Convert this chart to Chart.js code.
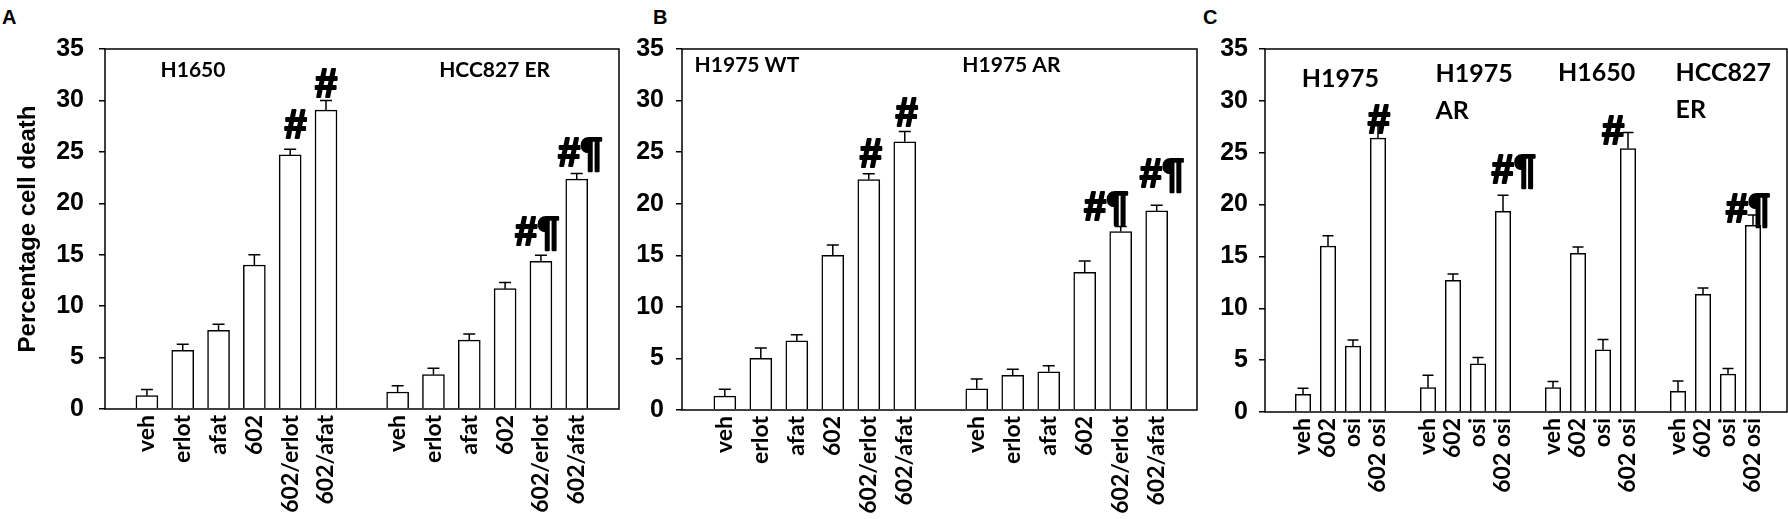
<!DOCTYPE html>
<html>
<head>
<meta charset="utf-8">
<script src="https://cdn.jsdelivr.net/npm/chart.js@4.4.0/dist/chart.umd.min.js"></script>
<style>
  html, body { margin: 0; padding: 0; background: #fff; }
  body { width: 1788px; height: 519px; position: relative; overflow: hidden; }
  canvas { position: absolute; top: 0; }
  .tag { position: absolute; font: bold 20px 'Liberation Sans', Arial, sans-serif; line-height: 20px; color: #000; }
</style>
</head>
<body>
<div class="tag" style="left:2px;top:7px">A</div>
<div class="tag" style="left:653px;top:7px">B</div>
<div class="tag" style="left:1203px;top:7px">C</div>
<canvas id="chartA" width="625" height="519" style="left:0px"></canvas>
<canvas id="chartB" width="580" height="519" style="left:625px"></canvas>
<canvas id="chartC" width="583" height="519" style="left:1205px"></canvas>
<script>
// treatments on the x axis
const treatAB = ['veh', 'erlot', 'afat', '602', '602/erlot', '602/afat'];
const treatC = ['veh', '602', 'osi', '602 osi'];
const yTicks = [0, 5, 10, 15, 20, 25, 30, 35];

// panel A
const h1650 = [1.3, 5.7, 7.65, 14.0, 24.7, 29.05];
const h1650Err = [0.6, 0.6, 0.6, 1.0, 0.55, 0.95];
const hcc827er = [1.65, 3.35, 6.7, 11.7, 14.35, 22.35];
const hcc827erErr = [0.6, 0.6, 0.6, 0.6, 0.6, 0.55];

// panel B
const h1975wt = [1.35, 5.0, 6.7, 15.0, 22.35, 26.0];
const h1975wtErr = [0.65, 1.0, 0.6, 1.0, 0.55, 1.0];
const h1975ar = [2.05, 3.35, 3.7, 13.35, 17.3, 19.3];
const h1975arErr = [0.95, 0.6, 0.6, 1.1, 0.5, 0.55];

// panel C
const osiH1975 = [1.7, 16.0, 6.35, 26.4];
const osiH1975Err = [0.6, 1.0, 0.6, 1.2];
const osiH1975ar = [2.35, 12.7, 4.65, 19.35];
const osiH1975arErr = [1.2, 0.6, 0.6, 1.55];
const osiH1650 = [2.35, 15.3, 6.0, 25.4];
const osiH1650Err = [0.6, 0.6, 1.0, 1.55];
const osiHcc827er = [2.0, 11.35, 3.65, 18.0];
const osiHcc827erErr = [1.0, 0.6, 0.55, 1.0];

// significance marks and cell line names (x in bar slots, y in % units)
const marksA = [
  { x: 4.15, y: 26.3, text: '#' }, { x: 5.0, y: 30.3, text: '#' },
  { x: 10.9, y: 15.9, text: '#¶' }, { x: 12.1, y: 23.6, text: '#¶' }
];
const marksB = [
  { x: 4.06, y: 23.6, text: '#' }, { x: 5.05, y: 27.5, text: '#' },
  { x: 10.6, y: 18.4, text: '#¶' }, { x: 12.15, y: 21.6, text: '#¶' }
];
const marksC = [
  { x: 3.03, y: 26.9, text: '#' }, { x: 8.43, y: 22.1, text: '#¶' },
  { x: 12.4, y: 25.8, text: '#' }, { x: 17.8, y: 18.3, text: '#¶' }
];
const namesA = [{ x: 0.38, y: 32.3, lines: ['H1650'] }, { x: 8.16, y: 32.3, lines: ['HCC827 ER'] }];
const namesB = [{ x: -0.84, y: 32.8, lines: ['H1975 WT'] }, { x: 6.6, y: 32.8, lines: ['H1975 AR'] }];
const namesC = [
  { x: -0.05, y: 31.3, lines: ['H1975'] }, { x: 5.3, y: 31.8, lines: ['H1975', 'AR'] },
  { x: 10.2, y: 31.9, lines: ['H1650'] }, { x: 14.9, y: 31.9, lines: ['HCC827', 'ER'] }
];

const labelFont = "'Lato', 'Noto Sans', sans-serif";
const tickFont = "'Liberation Sans', Arial, sans-serif";

const errorBars = {
  id: 'errorBars',
  afterDatasetsDraw(chart, args, opts) {
    const ctx = chart.ctx;
    const y = chart.scales.y;
    const meta = chart.getDatasetMeta(0);
    ctx.save();
    ctx.strokeStyle = '#000';
    ctx.lineWidth = 1.5;
    meta.data.forEach((bar, i) => {
      const v = chart.data.datasets[0].data[i].y;
      const top = y.getPixelForValue(v + opts.errors[i]);
      ctx.beginPath();
      ctx.moveTo(bar.x, bar.y);
      ctx.lineTo(bar.x, top);
      ctx.moveTo(bar.x - opts.cap / 2, top);
      ctx.lineTo(bar.x + opts.cap / 2, top);
      ctx.stroke();
    });
    ctx.restore();
  }
};

const frame = {
  id: 'frame',
  afterDraw(chart) {
    const a = chart.chartArea;
    const ctx = chart.ctx;
    ctx.save();
    ctx.strokeStyle = '#000';
    ctx.lineWidth = 1.5;
    ctx.strokeRect(a.left, a.top, a.right - a.left, a.bottom - a.top);
    ctx.restore();
  }
};

const marks = {
  id: 'marks',
  afterDraw(chart, args, opts) {
    const ctx = chart.ctx;
    const xs = chart.scales.x, ys = chart.scales.y;
    ctx.save();
    ctx.fillStyle = '#000';
    ctx.strokeStyle = '#000';
    ctx.textBaseline = 'alphabetic';
    ctx.font = 'bold ' + opts.nameSize + 'px ' + labelFont;
    ctx.textAlign = 'left';
    opts.names.forEach(n => {
      n.lines.forEach((line, k) => {
        ctx.fillText(line, xs.getPixelForValue(n.x), ys.getPixelForValue(n.y) + k * opts.lineGap);
      });
    });
    // heavy # and ¶ signs
    ctx.font = 'bold 40px ' + tickFont;
    ctx.textAlign = 'center';
    ctx.lineWidth = 2;
    ctx.lineJoin = 'round';
    opts.signs.forEach(m => {
      const px = xs.getPixelForValue(m.x), py = ys.getPixelForValue(m.y);
      ctx.fillText(m.text, px, py);
      ctx.strokeText(m.text, px, py);
    });
    ctx.restore();
  }
};

function makePanel(id, p) {
  const points = [], errs = [], labels = [], slots = [];
  p.groups.forEach((g, gi) => {
    g.vals.forEach((v, i) => {
      const x = p.starts[gi] + i;
      points.push({ x: x, y: v });
      errs.push(g.errs[i]);
      labels.push(p.treat[i]);
      slots.push(x);
    });
  });

  new Chart(document.getElementById(id), {
    type: 'bar',
    data: {
      datasets: [{
        data: points,
        backgroundColor: '#fff',
        borderColor: '#000',
        borderWidth: 1.5,
        barThickness: p.barWidth
      }]
    },
    options: {
      responsive: false,
      animation: false,
      layout: { padding: { left: 0, top: 49, right: p.padRight, bottom: 0 } },
      scales: {
        x: {
          type: 'linear',
          min: p.xMin,
          max: p.xMax,
          offset: false,
          grid: { display: false, drawTicks: false, offset: false },
          border: { display: false },
          afterBuildTicks: scale => { scale.ticks = slots.map(v => ({ value: v })); },
          afterFit: scale => { scale.height = 519 - p.bottom; },
          ticks: {
            autoSkip: false,
            minRotation: 90,
            maxRotation: 90,
            padding: 6,
            color: '#000',
            font: { family: labelFont, size: 23, weight: 'bold' },
            callback: (v, i) => labels[i]
          }
        },
        y: {
          min: 0,
          max: 35,
          afterBuildTicks: scale => { scale.ticks = yTicks.map(v => ({ value: v })); },
          afterFit: scale => { scale.width = p.yWidth; },
          grid: { display: true, drawOnChartArea: false, drawTicks: true, tickLength: 6, color: '#000', lineWidth: 1.5 },
          border: { display: false },
          ticks: {
            padding: p.tickPad,
            color: '#000',
            font: { family: tickFont, size: 25, weight: 'bold' }
          },
          title: {
            display: !!p.yTitle,
            text: p.yTitle || '',
            color: '#000',
            padding: { top: 14, bottom: 0 },
            font: { family: tickFont, size: 24, weight: 'bold' }
          }
        }
      },
      plugins: {
        legend: { display: false },
        tooltip: { enabled: false },
        errorBars: { errors: errs, cap: p.cap },
        marks: { names: p.names, signs: p.signs, nameSize: p.nameSize, lineGap: 37 }
      }
    },
    plugins: [errorBars, frame, marks]
  });
}

makePanel('chartA', {
  groups: [{ vals: h1650, errs: h1650Err }, { vals: hcc827er, errs: hcc827erErr }],
  starts: [0, 7], treat: treatAB, xMin: -1.17, xMax: 13.18,
  barWidth: 22, cap: 12, yWidth: 105, tickPad: 15, padRight: 6, bottom: 409,
  yTitle: 'Percentage cell death', names: namesA, signs: marksA, nameSize: 21
});

makePanel('chartB', {
  groups: [{ vals: h1975wt, errs: h1975wtErr }, { vals: h1975ar, errs: h1975arErr }],
  starts: [0, 7], treat: treatAB, xMin: -1.19, xMax: 13.12,
  barWidth: 22, cap: 12, yWidth: 57, tickPad: 12, padRight: 8, bottom: 410,
  names: namesB, signs: marksB, nameSize: 21
});

makePanel('chartC', {
  groups: [
    { vals: osiH1975, errs: osiH1975Err }, { vals: osiH1975ar, errs: osiH1975arErr },
    { vals: osiH1650, errs: osiH1650Err }, { vals: osiHcc827er, errs: osiHcc827erErr }
  ],
  starts: [0, 5, 10, 15], treat: treatC, xMin: -1.52, xMax: 19.36,
  barWidth: 15.5, cap: 11, yWidth: 60, tickPad: 11, padRight: 1, bottom: 412,
  names: namesC, signs: marksC, nameSize: 25
});
</script>
</body>
</html>
